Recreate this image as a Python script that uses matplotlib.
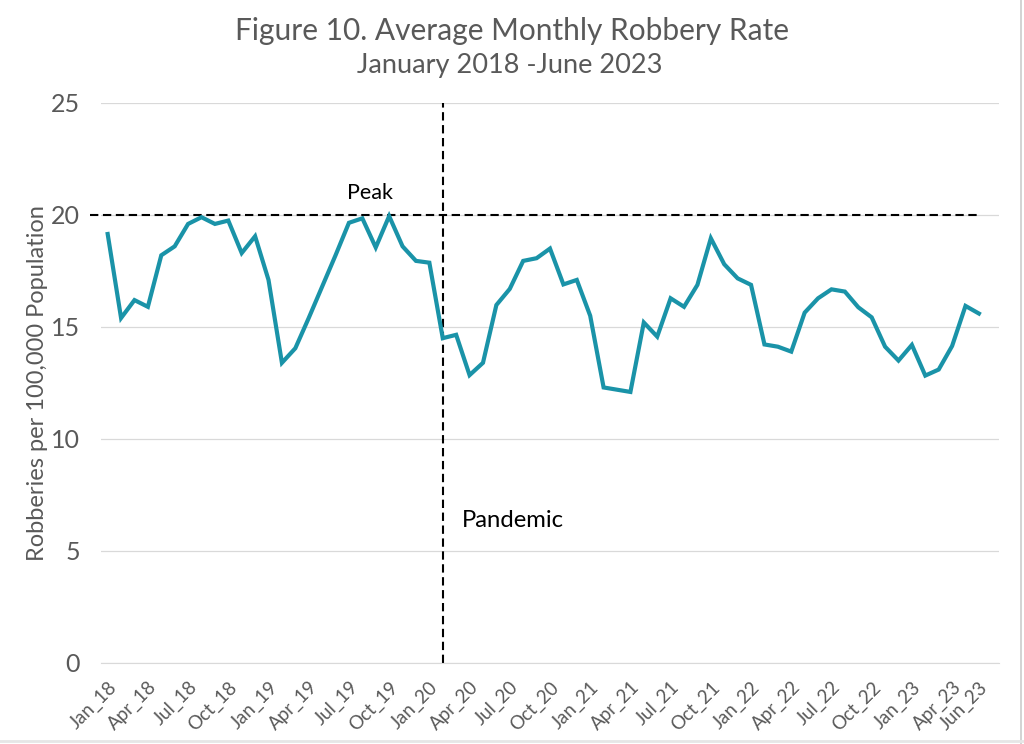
import matplotlib.pyplot as plt
import numpy as np
from matplotlib.lines import Line2D

plt.rcParams['font.family'] = ['Lato', 'DejaVu Sans']

months = ['Jan', 'Feb', 'Mar', 'Apr', 'May', 'Jun',
          'Jul', 'Aug', 'Sep', 'Oct', 'Nov', 'Dec']
labels = ['{}_{}'.format(m, y) for y in range(18, 24) for m in months][:66]

rate = [
    19.15, 15.4, 16.2, 15.9, 18.2, 18.6, 19.6, 19.9, 19.6, 19.75, 18.3, 19.05,
    17.1, 13.4, 14.05, 15.4, 16.8, 18.2, 19.65, 19.85, 18.55, 19.95, 18.6, 17.95,
    17.87, 14.5, 14.65, 12.85, 13.4, 15.98, 16.7, 17.95, 18.07, 18.5, 16.9, 17.1,
    15.5, 12.3, 12.2, 12.1, 15.2, 14.57, 16.28, 15.9, 16.88, 18.96, 17.8, 17.17,
    16.88, 14.22, 14.12, 13.9, 15.64, 16.28, 16.68, 16.58, 15.88, 15.43, 14.12, 13.5,
    14.2, 12.83, 13.1, 14.15, 15.94, 15.6,
]
peak = 20
pandemic_month = 'Feb_20'

tick_idx = list(range(0, 66, 3)) + [65]
x = np.arange(len(rate))
pandemic_x = labels.index(pandemic_month)

fig = plt.figure(figsize=(10.24, 7.44), dpi=100)
ax = fig.add_axes([0.0986, 0.1089, 0.877, 0.7527])

ax.plot(x, rate, color='#1a93a8', lw=3.0, solid_joinstyle='miter', zorder=3)
ax.hlines(peak, -1.3, len(rate) - 1, color='black', ls=(0, (4, 2.2)), lw=1.5,
          zorder=2, clip_on=False)
ax.axvline(pandemic_x, color='black', ls=(0, (4, 2.2)), lw=1.5, zorder=2)

ax.text(19.55, peak + 0.55, 'Peak', fontsize=15.5, ha='center', va='bottom', color='black')
ax.text(pandemic_x + 1.4, 6.38, 'Pandemic', fontsize=17.2, ha='left', va='center', color='black')

ax.set_xlim(-0.5, len(rate) + 0.5)
ax.set_ylim(0, 25)
ax.set_yticks([0, 5, 10, 15, 20, 25])
ax.grid(axis='y', color='#d9d9d9', lw=0.9)
ax.set_axisbelow(True)
ax.set_xticks(tick_idx)
ax.set_xticklabels([labels[i] for i in tick_idx], rotation=45, ha='right',
                   rotation_mode='anchor', fontsize=13.5, color='#595959')
ax.tick_params(axis='y', labelsize=18, colors='#595959', length=0, pad=15)
ax.tick_params(axis='x', length=0, pad=11)
for s in ['top', 'right', 'left']:
    ax.spines[s].set_visible(False)
ax.spines['bottom'].set_color('#d9d9d9')

ax.set_ylabel('Robberies per 100,000 Population', fontsize=17, color='#595959', labelpad=2)

fig.text(0.5, 0.959, 'Figure 10. Average Monthly Robbery Rate', fontsize=21.5,
         color='#595959', ha='center', va='center')
fig.text(0.498, 0.912, 'January 2018 -June 2023', fontsize=19.5,
         color='#595959', ha='center', va='center')

# light frame on right and bottom edges
fig.add_artist(Line2D([1020.5 / 1024, 1020.5 / 1024], [0, 1], color='#cccccc', lw=1.2))
fig.add_artist(Line2D([0, 1], [3 / 744, 3 / 744], color='#e6e6e6', lw=2))

fig.savefig('out.png', dpi=100)
